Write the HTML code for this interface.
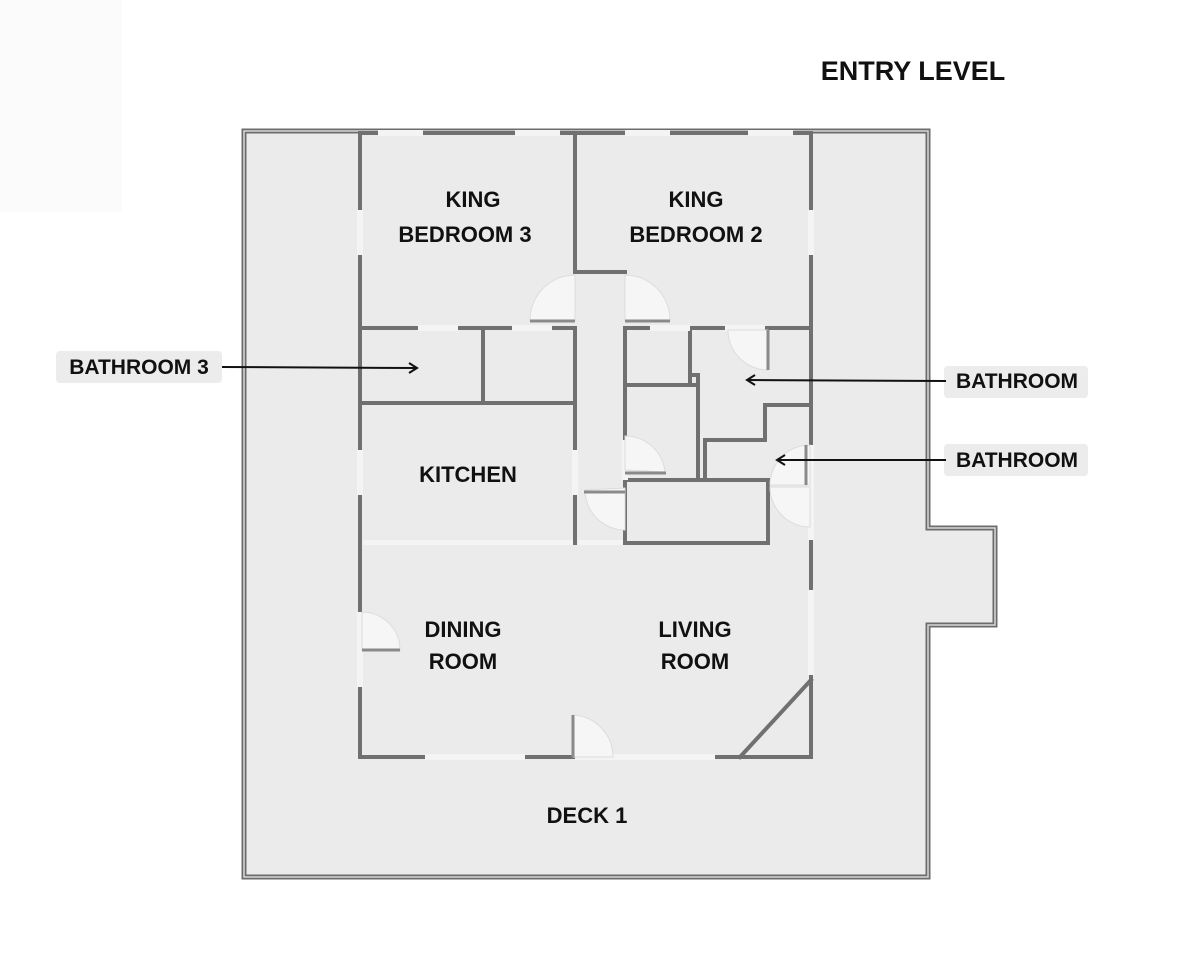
<!DOCTYPE html>
<html><head><meta charset="utf-8"><style>
html,body{margin:0;padding:0;background:#fff;width:1200px;height:960px;overflow:hidden}
svg{display:block}
text{font-family:"Liberation Sans",sans-serif;font-weight:bold;fill:#111}
</style></head><body>
<svg width="1200" height="960" viewBox="0 0 1200 960" xmlns="http://www.w3.org/2000/svg">
<rect x="0" y="0" width="122" height="212" fill="#fbfbfb"/>
<!-- deck outline -->
<path d="M244 131 H928 V528 H995 V625 H928 V877 H244 Z" fill="#ebebeb" stroke="#6c6c6c" stroke-width="5"/>
<path d="M244 131 H928 V528 H995 V625 H928 V877 H244 Z" fill="none" stroke="#d8d8d8" stroke-width="1.5"/>
<g fill="none" stroke="#707070" stroke-width="4" stroke-linecap="square">
<!-- house outline -->
<path d="M360 133 V757 H811 V133"/>
<path d="M360 133 H811"/>
<!-- bedrooms -->
<path d="M575 133 V272 H625"/>
<path d="M360 328 H575"/>
<path d="M625 328 H811"/>
<path d="M483 328 V403"/>
<path d="M360 403 H575"/>
<path d="M575 328 V543"/>
<path d="M625 328 V543"/>
<path d="M625 385 H690 V328"/>
<path d="M690 328 V375 H698 V480"/>
<path d="M625 385 H698"/>
<path d="M705 440 H765 V405 H811"/>
<path d="M705 440 V480"/>
<path d="M625 480 H768 V543 H625"/>
<path d="M740 757 L811 680"/>
</g>
<!-- windows / openings (white gaps) -->
<g fill="#f4f4f4">
<rect x="378" y="130" width="45" height="6"/><rect x="515" y="130" width="45" height="6"/>
<rect x="625" y="130" width="45" height="6"/><rect x="748" y="130" width="45" height="6"/>
<rect x="357" y="210" width="6" height="45"/><rect x="808" y="210" width="6" height="45"/>
<rect x="357" y="450" width="6" height="45"/><rect x="572" y="450" width="6" height="45"/>
<rect x="363" y="540" width="210" height="5"/><rect x="578" y="540" width="45" height="5"/>
<rect x="357" y="612" width="6" height="75"/><rect x="808" y="590" width="6" height="85"/>
<rect x="425" y="754" width="100" height="6"/><rect x="575" y="754" width="40" height="6"/>
<rect x="615" y="754" width="100" height="6"/>
<rect x="418" y="325" width="40" height="6"/><rect x="512" y="325" width="40" height="6"/>
<rect x="650" y="325" width="40" height="6"/><rect x="725" y="325" width="40" height="6"/>
<rect x="808" y="445" width="6" height="95"/>
<rect x="622" y="440" width="6" height="40"/>
</g>
<!-- door swings -->
<g fill="#f6f6f6" stroke="#dcdcdc" stroke-width="1">
<path d="M575 320 A45 45 0 0 0 530 320 Z" transform="translate(0,0)"/>
<path d="M575 320 L575 275 A45 45 0 0 0 530 320 Z"/>
<path d="M625 320 L625 275 A45 45 0 0 1 670 320 Z"/>
<path d="M768 330 L768 370 A40 40 0 0 1 728 330 Z"/>
<path d="M625 470 L625 436 A40 40 0 0 1 665 472 Z"/>
<path d="M625 488 L625 530 A40 40 0 0 1 585 490 Z"/>
<path d="M810 445 V485 H770 A40 40 0 0 1 810 445 Z"/>
<path d="M810 487 V527 A40 40 0 0 1 770 487 Z"/>
<path d="M362 612 V650 H400 A38 38 0 0 0 362 612 Z"/>
<path d="M573 757 V715 A42 42 0 0 1 613 757 Z"/>
</g>
<g stroke="#8a8a8a" stroke-width="3">
<line x1="530" y1="321" x2="575" y2="321"/><line x1="625" y1="321" x2="670" y2="321"/>
<line x1="768" y1="330" x2="768" y2="370"/><line x1="625" y1="473" x2="666" y2="473"/>
<line x1="584" y1="492" x2="625" y2="492"/><line x1="362" y1="650" x2="400" y2="650"/>
<line x1="573" y1="715" x2="573" y2="757"/><line x1="806" y1="445" x2="806" y2="485"/>
</g>
<!-- labels -->
<text x="913" y="80" font-size="27" text-anchor="middle">ENTRY LEVEL</text>
<g font-size="22" text-anchor="middle">
<text x="473" y="207">KING</text><text x="465" y="242">BEDROOM 3</text>
<text x="696" y="207">KING</text><text x="696" y="242">BEDROOM 2</text>
<text x="468" y="482">KITCHEN</text>
<text x="463" y="637">DINING</text><text x="463" y="669">ROOM</text>
<text x="695" y="637">LIVING</text><text x="695" y="669">ROOM</text>
<text x="587" y="823">DECK 1</text>
</g>
<rect x="56" y="351" width="166" height="32" rx="4" fill="#ececec"/>
<text x="139" y="374" font-size="21" text-anchor="middle">BATHROOM 3</text>
<rect x="944" y="366" width="144" height="32" rx="4" fill="#ececec"/>
<text x="1017" y="388" font-size="21" text-anchor="middle">BATHROOM</text>
<rect x="944" y="444" width="144" height="32" rx="4" fill="#ececec"/>
<text x="1017" y="467" font-size="21" text-anchor="middle">BATHROOM</text>
<g stroke="#111" stroke-width="2" fill="none">
<line x1="222" y1="367" x2="416" y2="368"/><path d="M409 363 L417 368 L409 373"/>
<line x1="946" y1="381" x2="748" y2="380"/><path d="M755 375 L747 380 L755 385"/>
<line x1="946" y1="460" x2="778" y2="460"/><path d="M785 455 L777 460 L785 465"/>
</g>
</svg>
</body></html>
